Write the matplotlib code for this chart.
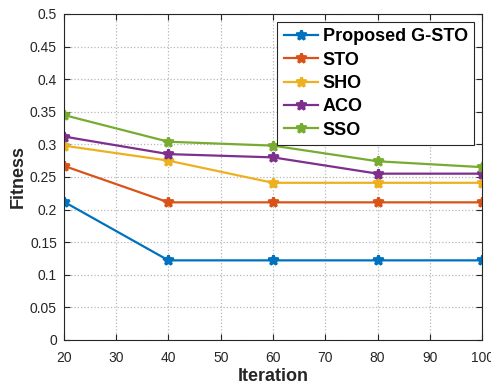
import matplotlib
matplotlib.use("Agg")
import matplotlib.pyplot as plt

iterations = [20, 40, 60, 80, 100]
proposed = [0.212, 0.122, 0.122, 0.122, 0.122]
sto = [0.267, 0.211, 0.211, 0.211, 0.211]
sho = [0.298, 0.275, 0.241, 0.241, 0.241]
aco = [0.312, 0.285, 0.280, 0.255, 0.255]
sso = [0.345, 0.304, 0.298, 0.274, 0.265]
labels = ["Proposed G-STO", "STO", "SHO", "ACO", "SSO"]
colors = ["#0072BD", "#D95319", "#EDB120", "#7E2F8E", "#77AC30"]

plt.rcParams['font.family'] = ['Liberation Sans', 'DejaVu Sans']

fig = plt.figure(figsize=(4.91, 3.88), dpi=100)
ax = fig.add_axes([0.130, 0.124, 0.852, 0.840])

for ys, lab, c in zip([proposed, sto, sho, aco, sso], labels, colors):
    ax.plot(iterations, ys, color=c, lw=1.6, marker='*', markersize=7,
            markeredgewidth=2, label=lab)

ax.set_xlim(20, 100)
ax.set_ylim(0, 0.5)
ax.set_xticks(range(20, 101, 10))
ax.set_yticks([i * 0.05 for i in range(11)])
ax.set_yticklabels(["0", "0.05", "0.1", "0.15", "0.2", "0.25", "0.3", "0.35", "0.4", "0.45", "0.5"])
ax.tick_params(direction='in', top=True, right=True, labelsize=10, colors='#262626', length=4)
ax.tick_params(axis='x', pad=8)
ax.tick_params(axis='y', pad=5)
ax.grid(True, linestyle=':', color='#b8b8b8', lw=0.9)
for s in ax.spines.values():
    s.set_color('#262626')
    s.set_linewidth(0.8)
ax.set_xlabel("Iteration", fontsize=13, fontweight='bold', color='#262626', labelpad=2)
ax.set_ylabel("Fitness", fontsize=13, fontweight='bold', color='#262626', labelpad=2)
leg = ax.legend(loc='upper right', prop={'weight': 'bold', 'size': 13},
                fancybox=False, edgecolor='#262626', framealpha=1,
                handlelength=1.9, handletextpad=0.25, borderpad=0.35, labelspacing=0.35,
                borderaxespad=0.45)
leg.get_frame().set_linewidth(0.8)

fig.savefig("out.png", dpi=100)
